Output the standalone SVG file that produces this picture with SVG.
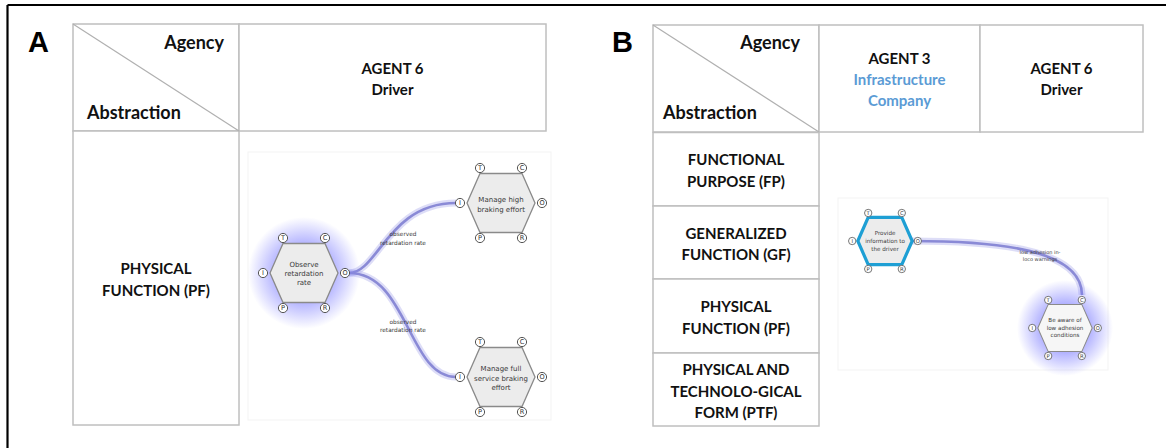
<svg xmlns="http://www.w3.org/2000/svg" width="1166" height="448" viewBox="0 0 1166 448">
<style>
.cell{fill:#fff;stroke:#bfbfbf;stroke-width:1.5}
.diag{stroke:#b0b0b0;stroke-width:1.2}
.hdr{font-family:Lato,"Liberation Sans",sans-serif;font-weight:bold;font-size:18px;fill:#111}
.lbl{font-family:Lato,"Liberation Sans",sans-serif;font-weight:bold;font-size:15px;fill:#111;text-anchor:middle}
.blue{fill:#5b9bd5}
.big{font-family:"Liberation Sans",Arial,sans-serif;font-weight:bold;font-size:29px;fill:#000}
.hex{fill:#ececec;stroke:#8a8a8a;stroke-width:1.3}
.hexw{fill:#f6f6f6;stroke:#8a8a8a;stroke-width:1.3}
.hexb{fill:#ececec;stroke:#1e9fd4;stroke-width:4}
.port{fill:#fff;stroke:#555;stroke-width:1}
.pt{font-family:"DejaVu Sans",sans-serif;font-size:6.6px;fill:#333;text-anchor:middle}
.nt{font-family:"DejaVu Sans",sans-serif;font-size:7px;fill:#3a3a3a;text-anchor:middle}
.et{font-family:"DejaVu Sans",sans-serif;font-size:5.8px;fill:#3a3a3a;text-anchor:middle}
.eg{fill:none;stroke:#8f8fe6;stroke-width:7;opacity:0.3}
.el{fill:none;stroke:#8a8ad6;stroke-width:2.6}
.panel{fill:none;stroke:#f3f3f3;stroke-width:1}
</style>
<defs>
<radialGradient id="glow">
<stop offset="0.5" stop-color="#7070ff" stop-opacity="0.55"/>
<stop offset="1" stop-color="#7070ff" stop-opacity="0"/>
</radialGradient>
<polygon id="hexshape" points="-34,0 -21,-29.5 21,-29.5 34,0 21,29.5 -21,29.5"/>
<g id="ports">
<circle class="port" cx="-21" cy="-35" r="4.6"/><text class="pt" x="-21" y="-32.6">T</text>
<circle class="port" cx="21" cy="-35" r="4.6"/><text class="pt" x="21" y="-32.6">C</text>
<circle class="port" cx="-41" cy="0" r="4.6"/><text class="pt" x="-41" y="2.4">I</text>
<circle class="port" cx="41" cy="0" r="4.6"/><text class="pt" x="41" y="2.4">O</text>
<circle class="port" cx="-21" cy="35" r="4.6"/><text class="pt" x="-21" y="37.4">P</text>
<circle class="port" cx="21" cy="35" r="4.6"/><text class="pt" x="21" y="37.4">R</text>
</g>
</defs>
<rect width="1166" height="448" fill="#fff"/>
<g id="frame">
<line x1="7.5" y1="5" x2="1166" y2="5" stroke="#000" stroke-width="2.2"/>
<line x1="7.5" y1="5" x2="7.5" y2="448" stroke="#000" stroke-width="2.2"/>
</g>
<g id="tableA">
<text class="big" x="28" y="52">A</text>
<rect class="cell" x="73" y="24" width="166" height="107"/>
<rect class="cell" x="239" y="24" width="307" height="107"/>
<rect class="cell" x="73" y="131" width="166" height="294"/>
<line class="diag" x1="73" y1="24" x2="239" y2="131"/>
<text class="hdr" x="224" y="49" text-anchor="end">Agency</text>
<text class="hdr" x="87" y="119">Abstraction</text>
<text class="lbl" x="392.5" y="74">AGENT 6</text>
<text class="lbl" x="392.5" y="95">Driver</text>
<text class="lbl" x="156" y="274">PHYSICAL</text>
<text class="lbl" x="156" y="296">FUNCTION (PF)</text>
<rect class="panel" x="248" y="152" width="303" height="268"/>
</g>
<g id="tableB">
<text class="big" x="612" y="52">B</text>
<rect class="cell" x="653" y="25" width="166" height="107"/>
<rect class="cell" x="819" y="25" width="161" height="107"/>
<rect class="cell" x="980" y="25" width="163" height="107"/>
<line class="diag" x1="653" y1="25" x2="819" y2="132"/>
<text class="hdr" x="800" y="49" text-anchor="end">Agency</text>
<text class="hdr" x="663" y="119">Abstraction</text>
<text class="lbl" x="899.5" y="63.5">AGENT 3</text>
<text class="lbl blue" x="899.5" y="85">Infrastructure</text>
<text class="lbl blue" x="899.5" y="106">Company</text>
<text class="lbl" x="1061.5" y="74">AGENT 6</text>
<text class="lbl" x="1061.5" y="95">Driver</text>
<rect class="cell" x="653" y="132.5" width="166" height="73.5"/>
<rect class="cell" x="653" y="206" width="166" height="73"/>
<rect class="cell" x="653" y="279" width="166" height="74"/>
<rect class="cell" x="653" y="353" width="166" height="73"/>
<text class="lbl" x="736" y="165">FUNCTIONAL</text>
<text class="lbl" x="736" y="187">PURPOSE (FP)</text>
<text class="lbl" x="736" y="238.5">GENERALIZED</text>
<text class="lbl" x="736" y="260">FUNCTION (GF)</text>
<text class="lbl" x="736" y="311.5">PHYSICAL</text>
<text class="lbl" x="736" y="333.5">FUNCTION (PF)</text>
<text class="lbl" x="736" y="375">PHYSICAL AND</text>
<text class="lbl" x="736" y="397">TECHNOLO-GICAL</text>
<text class="lbl" x="736" y="418">FORM (PTF)</text>
<rect class="panel" x="838" y="198" width="270" height="172"/>
</g>
<g id="connectors">
<path class="eg" d="M349,273 C378,273 388,203 456,203"/>
<path class="el" d="M349,273 C378,273 388,203 456,203"/>
<path class="eg" d="M349,273 C408,273 408,377 456,377"/>
<path class="el" d="M349,273 C408,273 408,377 456,377"/>
<path class="eg" d="M912,241 C1000,241 1082,250 1082,295"/>
<path class="el" d="M912,241 C1000,241 1082,250 1082,295"/>
<text class="et" x="403" y="236.3">observed</text>
<text class="et" x="403" y="244.8">retardation rate</text>
<text class="et" x="403" y="323.8">observed</text>
<text class="et" x="403" y="331.5">retardation rate</text>
<text class="et" x="1040" y="253.5" style="font-size:5px">low adhesion in-</text>
<text class="et" x="1040" y="261" style="font-size:5px">loco warnings</text>
</g>
<g id="node-observe" transform="translate(304,273)">
<circle r="56" fill="url(#glow)"/>
<use href="#hexshape" class="hex"/>
<use href="#ports"/>
<text class="nt" y="-6">Observe</text>
<text class="nt" y="3">retardation</text>
<text class="nt" y="12">rate</text>
</g>
<g id="node-high" transform="translate(501,203)">
<use href="#hexshape" class="hex"/>
<use href="#ports"/>
<text class="nt" y="-1">Manage high</text>
<text class="nt" y="8.5">braking effort</text>
</g>
<g id="node-full" transform="translate(501,377)">
<use href="#hexshape" class="hex"/>
<use href="#ports"/>
<text class="nt" y="-6">Manage full</text>
<text class="nt" y="3.5">service braking</text>
<text class="nt" y="13">effort</text>
</g>
<g id="node-provide" transform="translate(885,241) scale(0.8)">
<use href="#hexshape" class="hexb"/>
<use href="#ports"/>
<text class="nt" y="-7">Provide</text>
<text class="nt" y="2.5">information to</text>
<text class="nt" y="12">the driver</text>
</g>
<g id="node-aware" transform="translate(1065,328) scale(0.8)">
<circle r="60" fill="url(#glow)"/>
<use href="#hexshape" class="hexw"/>
<use href="#ports"/>
<text class="nt" y="-7.5">Be aware of</text>
<text class="nt" y="2">low adhesion</text>
<text class="nt" y="11.5">conditions</text>
</g>
</svg>
